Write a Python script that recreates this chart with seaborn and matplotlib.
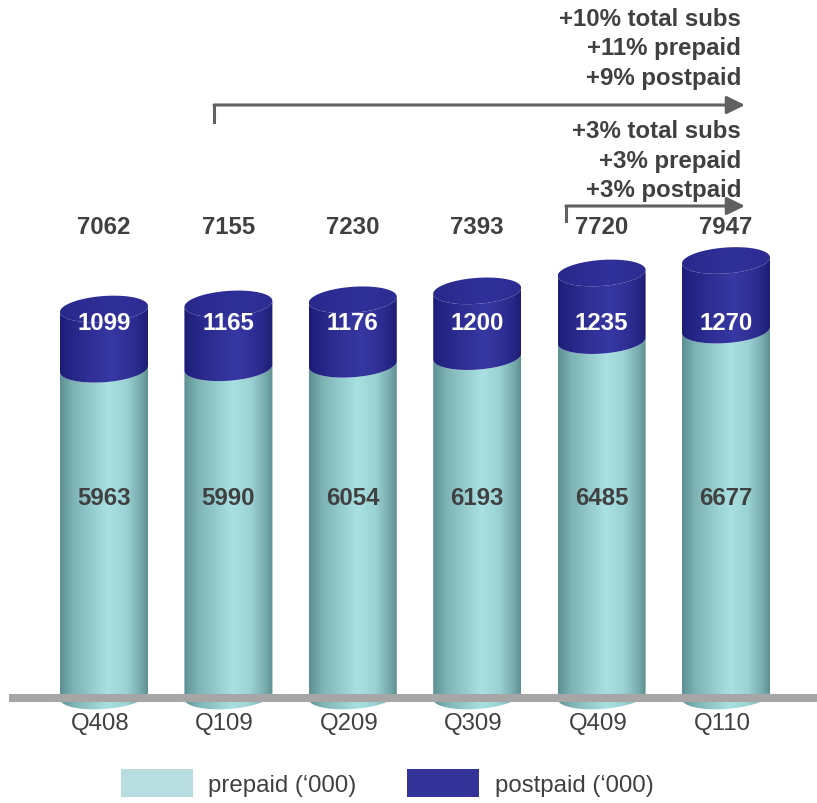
import numpy as np
import pandas as pd
import matplotlib
matplotlib.use("Agg")
import matplotlib.pyplot as plt
import seaborn as sns
from matplotlib.colors import LinearSegmentedColormap
from matplotlib.patches import Polygon, Patch

# Subscriber base per quarter ('000)
quarters = ["Q408", "Q109", "Q209", "Q309", "Q409", "Q110"]
prepaid = [5963, 5990, 6054, 6193, 6485, 6677]
postpaid = [1099, 1165, 1176, 1200, 1235, 1270]
totals = [7062, 7155, 7230, 7393, 7720, 7947]

growth_year = ["+10% total subs", "+11% prepaid", "+9% postpaid"]
growth_quarter = ["+3% total subs", "+3% prepaid", "+3% postpaid"]

legend_labels = ["prepaid (\u2018000)", "postpaid (\u2018000)"]

df = pd.DataFrame({"quarter": quarters, "prepaid": prepaid,
                   "postpaid": postpaid, "total": totals})

sns.set_theme(style="white")
plt.rcParams["font.family"] = ["Liberation Sans", "DejaVu Sans"]

W, H = 817, 804
fig = plt.figure(figsize=(W / 100, H / 100), dpi=100)
ax = fig.add_axes([0, 0, 1, 1])

# pixel helpers for the layout (category spacing / value scale)
PX0, PXSTEP = 104.0, 124.4
PY0, PYSCALE = 697.0, 0.0548


def X(px):
    return (px - PX0) / PXSTEP


def Y(py):
    return (PY0 - py) / PYSCALE


BAR_W = 88 / PXSTEP
sns.barplot(data=df, x="quarter", y="total", color="#333399", width=BAR_W,
            ax=ax, saturation=1)
sns.barplot(data=df, x="quarter", y="prepaid", color="#a8e0e2", width=BAR_W,
            ax=ax, saturation=1)

ax.set_xlim(X(0), X(W))
ax.set_ylim(Y(H), Y(0))
ax.axis("off")

patches = list(ax.patches)
tot_bars = patches[:len(quarters)]
pre_bars = patches[len(quarters):]
for p in patches:
    p.set_visible(False)

ELL_H = 26 / PYSCALE           # ellipse height in data units
SHEAR = (6 / PYSCALE) / BAR_W  # right side of each cap sits a little higher

cmap_pre = LinearSegmentedColormap.from_list(
    "pre", [(0, "#5c8f91"), (0.15, "#7db3b5"), (0.55, "#a9e1e3"),
            (0.75, "#9bd3d5"), (0.92, "#77aaac"), (1, "#5e9092")])
cmap_post = LinearSegmentedColormap.from_list(
    "post", [(0, "#1d1d78"), (0.2, "#29298c"), (0.6, "#3838a4"),
             (0.85, "#2b2b8f"), (1, "#1e1e76")])
cmap_cap = LinearSegmentedColormap.from_list(
    "cap", [(0, "#28288c"), (0.6, "#30309a"), (1, "#2c2c92")])

t = np.linspace(0, np.pi, 60)


def arc(cx, cy, w, lower=True):
    # front (lower) or back (upper) half of a sheared ellipse, left -> right
    tt = np.pi + t if lower else np.pi - t
    ex = cx + (w / 2) * np.cos(tt)
    ey = cy + (ELL_H / 2) * np.sin(tt) + SHEAR * (ex - cx)
    return np.column_stack([ex, ey])


def gradient_fill(poly_xy, x0, w, ylo, yhi, cmap, z):
    poly = Polygon(poly_xy, closed=True, facecolor="none", edgecolor="none")
    ax.add_patch(poly)
    grad = np.linspace(0, 1, 256).reshape(1, -1)
    im = ax.imshow(grad, cmap=cmap, aspect="auto", zorder=z,
                   extent=[x0, x0 + w, ylo - ELL_H, yhi + ELL_H],
                   interpolation="bilinear")
    im.set_clip_path(poly)


def segment(cx, w, ylo, yhi, cmap, z, cap=False):
    lower_bottom = arc(cx, ylo, w, lower=True)
    lower_top = arc(cx, yhi, w, lower=True)[::-1]
    body = np.vstack([lower_bottom, lower_top])
    gradient_fill(body, cx - w / 2, w, ylo, yhi, cmap, z)
    if cap:
        full = np.vstack([arc(cx, yhi, w, lower=True),
                          arc(cx, yhi, w, lower=False)[::-1]])
        gradient_fill(full, cx - w / 2, w, yhi - ELL_H, yhi, cmap_cap, z + 0.1)


for tb, pb in zip(tot_bars, pre_bars):
    cx = tb.get_x() + tb.get_width() / 2
    w = tb.get_width()
    segment(cx, w, 0, pb.get_height(), cmap_pre, 2)
    segment(cx, w, pb.get_height(), tb.get_height(), cmap_post, 3, cap=True)

ax.set_xlim(X(0), X(W))
ax.set_ylim(Y(H), Y(0))

# floor line
ax.plot([X(9), X(W)], [Y(699), Y(699)], color="#a6a6a6", lw=5.8,
        solid_capstyle="butt", zorder=5)

dark = "#404040"
FS = 17.3
for i, (q, pre, post, tot) in enumerate(zip(quarters, prepaid, postpaid, totals)):
    ax.text(i, Y(228), f"{tot}", ha="center", va="center", fontsize=FS,
            fontweight="bold", color=dark, zorder=6)
    ax.text(i, Y(324), f"{post}", ha="center", va="center", fontsize=FS,
            fontweight="bold", color="white", zorder=6)
    ax.text(i, Y(499), f"{pre}", ha="center", va="center", fontsize=FS,
            fontweight="bold", color=dark, zorder=6)
    ax.text(i - 0.03, Y(724), q, ha="center", va="center", fontsize=FS,
            color=dark, zorder=6)

# growth callouts
for k, s in enumerate(growth_year):
    ax.text(X(741), Y(19 + 29.5 * k), s, ha="right", va="center",
            fontsize=FS, fontweight="bold", color=dark)
for k, s in enumerate(growth_quarter):
    ax.text(X(741), Y(132 + 29.5 * k), s, ha="right", va="center",
            fontsize=FS, fontweight="bold", color=dark)

arrow_c = "#606060"
astyle = "-|>,head_length=0.55,head_width=0.27"
for xc, yc, ydrop in [(214, 106, 123), (566, 207, 222)]:
    ax.plot([X(xc), X(xc)], [Y(ydrop), Y(yc)], color=arrow_c, lw=2.2,
            solid_capstyle="projecting")
    ax.annotate("", xy=(X(745), Y(yc)), xytext=(X(xc), Y(yc)),
                arrowprops=dict(arrowstyle=astyle, color=arrow_c, lw=2.2,
                                mutation_scale=20, shrinkA=0, shrinkB=0))

handles = [Patch(facecolor="#b8dde0", edgecolor="none"),
           Patch(facecolor="#333399", edgecolor="none")]
leg = fig.legend(handles, legend_labels, ncol=2, loc="upper left",
                 bbox_to_anchor=(121 / W, 1 - 770 / H), frameon=False,
                 fontsize=FS, handlelength=3.0, handleheight=1.4,
                 handletextpad=0.64, columnspacing=2.1, borderpad=0,
                 borderaxespad=0)
for txt in leg.get_texts():
    txt.set_color(dark)

fig.savefig("out.png", dpi=100)
